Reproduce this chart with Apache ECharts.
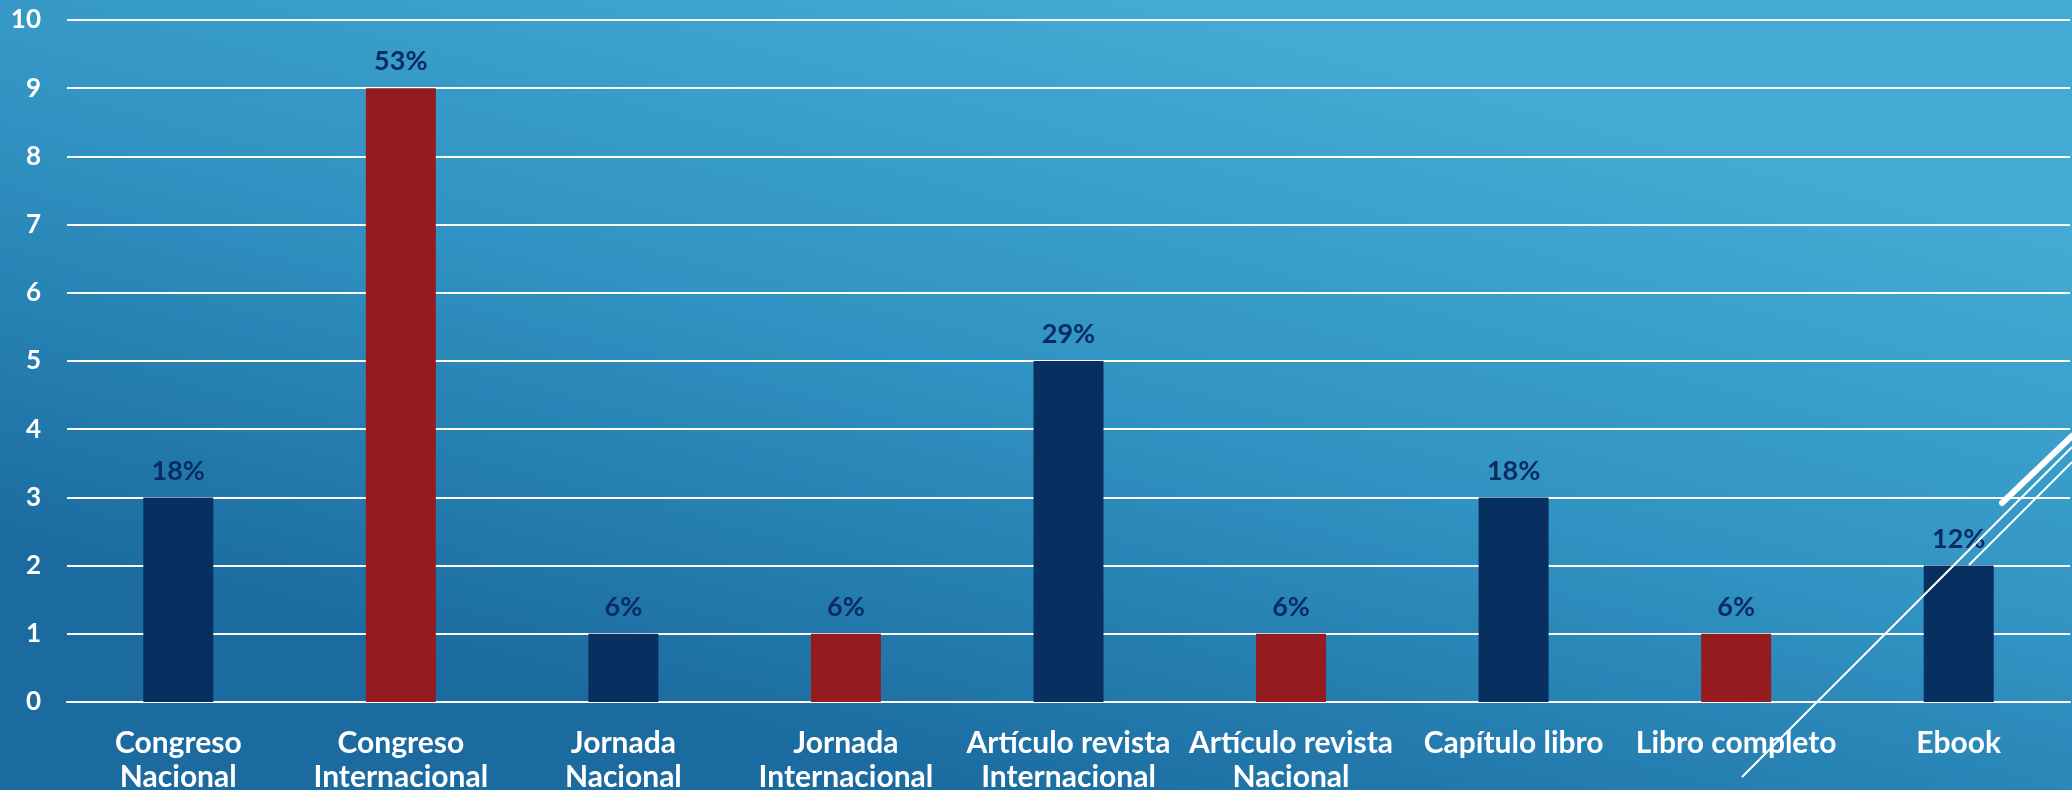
<!DOCTYPE html>
<html>
<head>
<meta charset="utf-8">
<script src="https://cdn.jsdelivr.net/npm/echarts@6/dist/echarts.min.js"></script>
<style>
  html, body { margin: 0; padding: 0; }
  #chart { width: 2072px; height: 790px; }
</style>
</head>
<body>
<div id="chart"></div>
<script>
const categories = [
  'Congreso\nNacional',
  'Congreso\nInternacional',
  'Jornada\nNacional',
  'Jornada\nInternacional',
  'Artículo revista\nInternacional',
  'Artículo revista\nNacional',
  'Capítulo libro',
  'Libro completo',
  'Ebook'
];
const counts = [3, 9, 1, 1, 5, 1, 3, 1, 2];
const percentLabels = ['18%', '53%', '6%', '6%', '29%', '6%', '18%', '6%', '12%'];
const yTicks = [0, 10, 1]; // min, max, interval

const NAVY = '#072f5f';
const RED = '#951b1e';
const FONT = 'Lato, "Liberation Sans", sans-serif';

const myChart = echarts.init(document.getElementById('chart'), null, { renderer: 'canvas' });

const option = {
  backgroundColor: {
    type: 'linear',
    x: 0.45, y: 1, x2: 0.55, y2: 0,
    colorStops: [
      { offset: 0, color: '#1b6ba0' },
      { offset: 0.5, color: '#3092c2' },
      { offset: 1, color: '#43aad3' }
    ]
  },
  animation: false,
  grid: {
    top: 20,
    left: 67,
    right: 2,
    bottom: 88,
    containLabel: false,
    outerBoundsMode: 'none'
  },
  xAxis: {
    type: 'category',
    data: categories,
    axisLine: { show: true, lineStyle: { color: '#ffffff', width: 2 } },
    axisTick: { show: false },
    axisLabel: {
      color: '#ffffff',
      fontFamily: FONT,
      fontWeight: 'bold',
      fontSize: 30,
      lineHeight: 34,
      margin: 24,
      interval: 0
    }
  },
  yAxis: {
    type: 'value',
    min: yTicks[0],
    max: yTicks[1],
    interval: yTicks[2],
    axisLine: { show: false },
    axisTick: { show: false },
    splitLine: { lineStyle: { color: '#ffffff', width: 2 } },
    axisLabel: {
      color: '#ffffff',
      fontFamily: FONT,
      fontWeight: 'bold',
      fontSize: 26,
      margin: 26
    }
  },
  series: [
    {
      type: 'bar',
      data: counts,
      barWidth: 70,
      itemStyle: {
        color: (p) => (p.dataIndex % 2 === 0 ? NAVY : RED)
      },
      label: {
        show: true,
        position: 'top',
        distance: 13,
        color: '#0b2b63',
        fontFamily: FONT,
        fontWeight: 'bold',
        fontSize: 27,
        formatter: (p) => percentLabels[p.dataIndex]
      },
      z: 2
    }
  ],
  // decorative strokes in the lower right corner
  graphic: [
    {
      type: 'line',
      shape: { x1: 2002, y1: 503, x2: 2072, y2: 436 },
      style: { stroke: '#ffffff', lineWidth: 6, lineCap: 'round' },
      z: 10
    },
    {
      type: 'line',
      shape: { x1: 1742, y1: 777, x2: 2072, y2: 447 },
      style: { stroke: '#ffffff', lineWidth: 2 },
      z: 10
    },
    {
      type: 'line',
      shape: { x1: 1969, y1: 565, x2: 2072, y2: 462 },
      style: { stroke: '#ffffff', lineWidth: 2 },
      z: 10
    }
  ]
};

myChart.setOption(option);
window.addEventListener('resize', () => {
  myChart.resize();
});
</script>
</body>
</html>
